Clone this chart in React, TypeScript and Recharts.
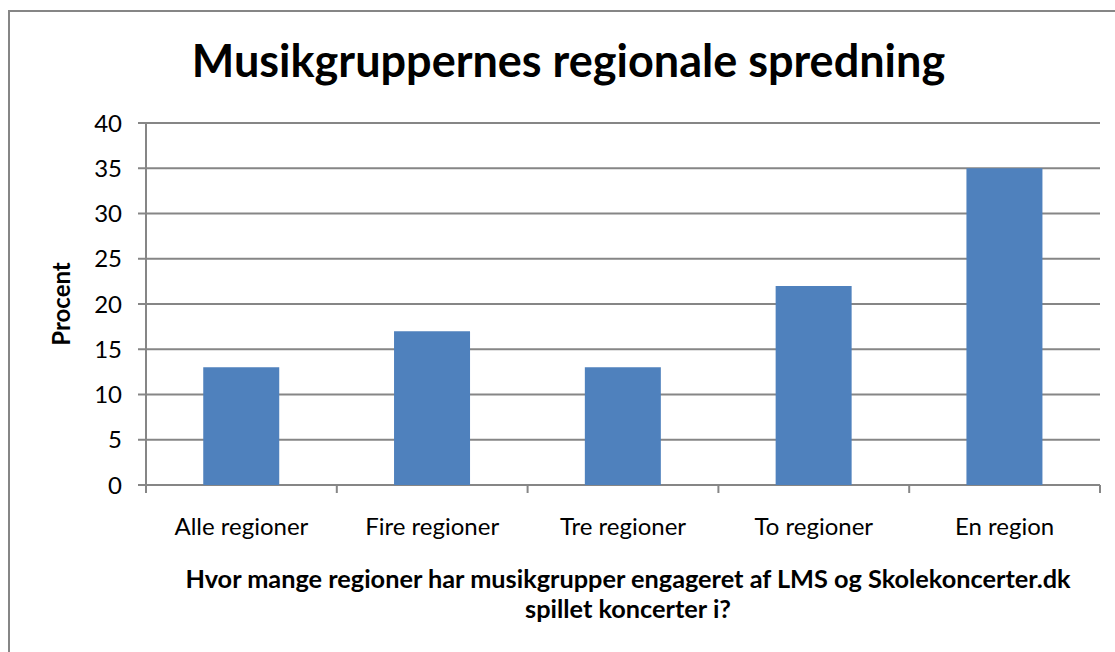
import React from 'react';
import { BarChart, Bar, XAxis, YAxis, CartesianGrid } from 'recharts';

const categories = ['Alle regioner', 'Fire regioner', 'Tre regioner', 'To regioner', 'En region'];
const procent = [13, 17, 13, 22, 35];
const yTicks = [0, 5, 10, 15, 20, 25, 30, 35, 40];

const data = categories.map((name, i) => ({ name, value: procent[i] }));

const FONT = 'Lato, "Open Sans", sans-serif';
const AXIS = '#868686';
const PLOT_LEFT = 146;
const PLOT_RIGHT = 1100;
const PLOT_TOP = 123;
const PLOT_BOTTOM = 485;
const BAND = (PLOT_RIGHT - PLOT_LEFT) / categories.length;

// category label with tick marks on the band edges, like Excel
const CategoryTick: React.FC<any> = ({ x, y, payload, index }) => {
  const last = index === categories.length - 1;
  return (
    <g>
      <line x1={x - BAND / 2} x2={x - BAND / 2} y1={y - 8} y2={y} stroke={AXIS} strokeWidth={2} />
      {last && <line x1={x + BAND / 2} x2={x + BAND / 2} y1={y - 8} y2={y} stroke={AXIS} strokeWidth={2} />}
      <text x={x} y={y + 42} textAnchor="middle" fill="#000" fontSize={24} fontFamily={FONT}>
        {payload.value}
      </text>
    </g>
  );
};

export default function App() {
  return (
    <div style={{ position: 'absolute', left: 0, top: 0, width: 1115, height: 652, background: '#fff', overflow: 'hidden', fontFamily: FONT }}>
      <div style={{ position: 'absolute', left: 8, top: 10, width: 1200, height: 700, borderLeft: `2px solid ${AXIS}`, borderTop: `2px solid ${AXIS}` }} />
      <div style={{ position: 'absolute', left: 0, width: 1137, top: 33, textAlign: 'center', fontSize: 45, fontWeight: 700, color: '#000' }}>
        Musikgruppernes regionale spredning
      </div>
      <div style={{ position: 'absolute', left: 60, top: 304, transform: 'translate(-50%, -50%) rotate(-90deg)', fontSize: 24, fontWeight: 700, whiteSpace: 'nowrap' }}>
        Procent
      </div>
      <div style={{ position: 'absolute', left: 146, width: 964, top: 563, textAlign: 'center', fontSize: 25.3, fontWeight: 700, lineHeight: '30px' }}>
        Hvor mange regioner har musikgrupper engageret af LMS og Skolekoncerter.dk
        <br />
        spillet koncerter i?
      </div>
      <BarChart
        width={1115}
        height={652}
        data={data}
        margin={{ top: PLOT_TOP, right: 1115 - PLOT_RIGHT, left: PLOT_LEFT - 80, bottom: 652 - PLOT_BOTTOM - 60 }}
        barCategoryGap="30%"
        style={{ position: 'absolute', left: 0, top: 0 }}
      >
        <CartesianGrid vertical={false} stroke={AXIS} strokeWidth={2} />
        <XAxis
          dataKey="name"
          interval={0}
          height={60}
          axisLine={false}
          tickLine={false}
          tick={<CategoryTick />}
        />
        <YAxis
          width={80}
          domain={[0, 40]}
          ticks={yTicks}
          interval={0}
          axisLine={{ stroke: AXIS, strokeWidth: 2 }}
          tickLine={{ stroke: AXIS, strokeWidth: 2 }}
          tickSize={8}
          tick={{ fill: '#000', fontSize: 24, fontFamily: FONT, dx: -14 }}
        />
        <Bar dataKey="value" fill="#4f81bd" isAnimationActive={false} />
      </BarChart>
    </div>
  );
}
